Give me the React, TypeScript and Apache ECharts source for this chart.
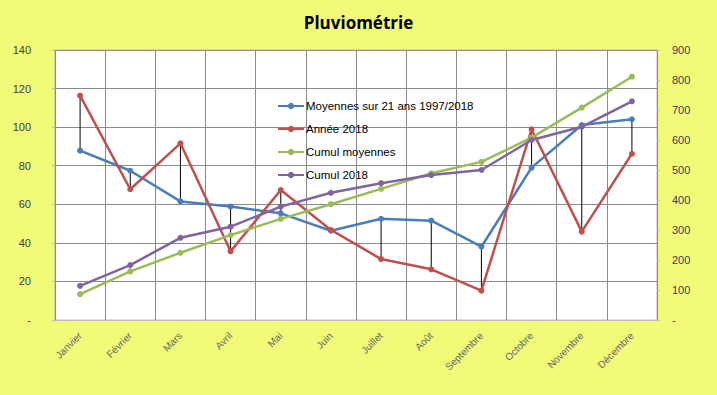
import React, { useEffect, useRef } from 'react';
import * as echarts from 'echarts';

const months = ['Janvier', 'Février', 'Mars', 'Avril', 'Mai', 'Juin', 'Juillet', 'Août', 'Septembre', 'Octobre', 'Novembre', 'Décembre'];
const moyennes = [87.8, 77.4, 61.5, 58.8, 55.3, 46.3, 52.5, 51.5, 38.0, 79.0, 101.1, 104.1];
const annee2018 = [116.3, 67.8, 91.6, 35.6, 67.4, 46.7, 31.6, 26.3, 15.2, 98.9, 45.8, 86.2];
const cumulMoyennes = [86, 162, 224, 283, 337, 386, 437, 489, 527, 608, 708, 811];
const cumul2018 = [114, 183, 274, 311, 378, 424, 456, 483, 500, 600, 644, 729];

const seriesNames = ['Moyennes sur 21 ans 1997/2018', 'Année 2018', 'Cumul moyennes', 'Cumul 2018'];
const colors = ['#4A7EBB', '#C0504D', '#9BBB59', '#8064A2'];

export default function App() {
  const ref = useRef<HTMLDivElement>(null);
  useEffect(() => {
    if (!ref.current) return;
    const chart = echarts.init(ref.current, null, { renderer: 'svg' });
    const lineSeries = (name: string, data: number[], color: string, yAxisIndex: number) => ({
      name,
      type: 'line',
      yAxisIndex,
      data,
      symbol: 'circle',
      symbolSize: 6,
      itemStyle: { color },
      lineStyle: { color, width: 2.5 },
      z: 3,
    });
    chart.setOption({
      animation: false,
      backgroundColor: '#F1FB78',
      title: {
        text: 'Pluviométrie',
        left: 'center',
        top: 9,
        textStyle: { fontFamily: 'Open Sans', fontWeight: 'bold', fontSize: 17, color: '#000' },
      },
      legend: {
        data: seriesNames,
        orient: 'vertical',
        left: 277,
        top: 100,
        padding: 0,
        itemWidth: 26,
        itemHeight: 8,
        itemGap: 11,
        textStyle: { fontFamily: 'Liberation Sans', fontSize: 11.5, color: '#000', padding: [0, 0, 0, -3] },
      },
      grid: { left: 55, right: 60, top: 50, bottom: 75, show: true, backgroundColor: '#fff', borderColor: '#BDBDBD', borderWidth: 1 },
      xAxis: {
        type: 'category',
        data: months,
        boundaryGap: true,
        axisLine: { show: true, lineStyle: { color: '#BDBDBD' } },
        axisTick: { show: false },
        splitLine: { show: true, interval: 0, lineStyle: { color: '#8A8A8A', width: 1 } },
        axisLabel: { rotate: 45, interval: 0, color: '#666', fontSize: 10, fontFamily: 'Liberation Sans', margin: 14 },
      },
      yAxis: [
        {
          type: 'value',
          min: 0,
          max: 140,
          interval: 20,
          axisLine: { show: false },
          axisTick: { show: true, length: 3, lineStyle: { color: '#BDBDBD' } },
          splitLine: { show: true, lineStyle: { color: '#8A8A8A', width: 1 } },
          axisLabel: { color: '#3A3A55', fontSize: 11, fontFamily: 'Liberation Sans', margin: 24, formatter: (v: number) => (v === 0 ? '-' : String(v)) },
        },
        {
          type: 'value',
          min: 0,
          max: 900,
          interval: 100,
          axisLine: { show: false },
          axisTick: { show: true, length: 3, lineStyle: { color: '#BDBDBD' } },
          splitLine: { show: false },
          axisLabel: { color: '#3A3A55', fontSize: 11, fontFamily: 'Liberation Sans', margin: 15, formatter: (v: number) => (v === 0 ? '-' : String(v)) },
        },
      ],
      series: [
        {
          type: 'custom',
          name: 'hl',
          yAxisIndex: 0,
          data: months.map((_, i) => [i, moyennes[i], annee2018[i]]),
          encode: { x: 0, y: [1, 2] },
          z: 2,
          renderItem: (params: any, api: any) => {
            const p1 = api.coord([api.value(0), api.value(1)]);
            const p2 = api.coord([api.value(0), api.value(2)]);
            return {
              type: 'line',
              shape: { x1: p1[0], y1: p1[1], x2: p2[0], y2: p2[1] },
              style: { stroke: '#000', lineWidth: 1 },
            };
          },
        },
        lineSeries(seriesNames[0], moyennes, colors[0], 0),
        lineSeries(seriesNames[1], annee2018, colors[1], 0),
        lineSeries(seriesNames[2], cumulMoyennes, colors[2], 1),
        lineSeries(seriesNames[3], cumul2018, colors[3], 1),
      ],
    });
    return () => chart.dispose();
  }, []);
  return <div ref={ref} style={{ position: 'fixed', left: 0, top: 0, width: 717, height: 395 }} />;
}
